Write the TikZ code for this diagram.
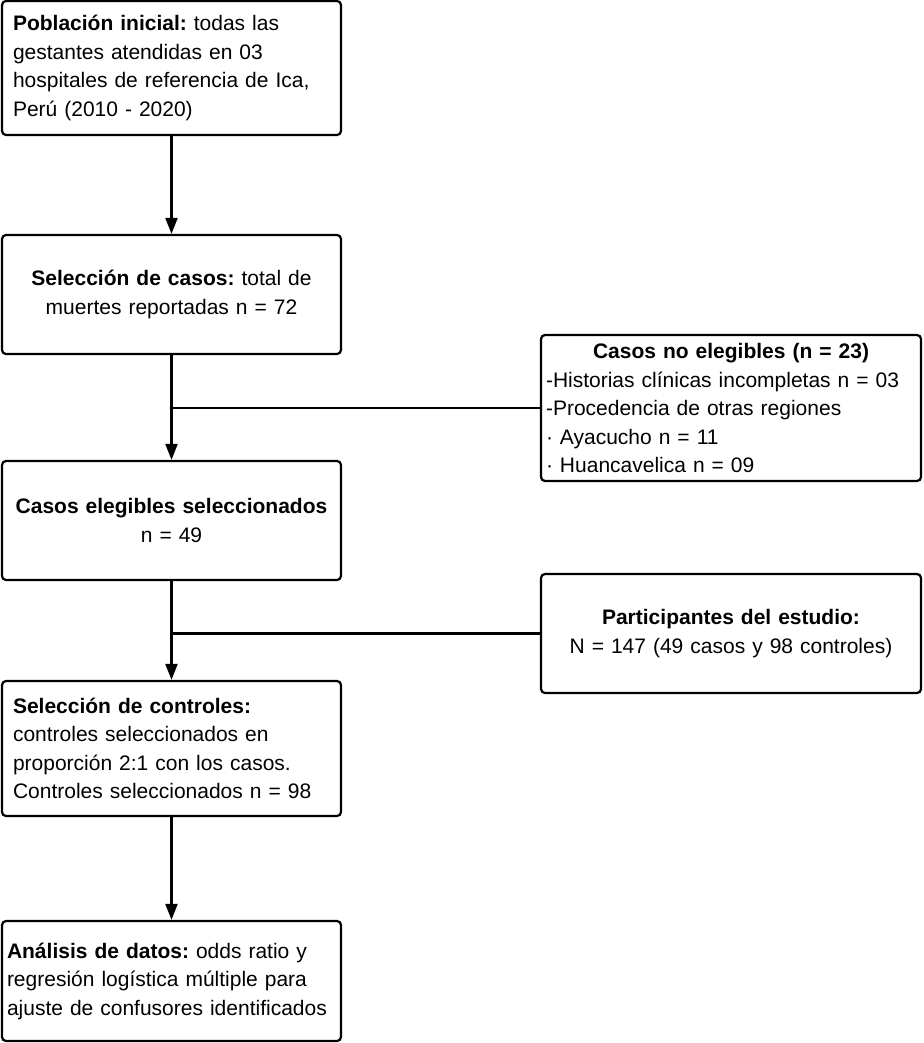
\documentclass[tikz,border=0pt]{standalone}
\usepackage{fontspec}
\setmainfont{Liberation Sans}
\usetikzlibrary{arrows.meta}
\frenchspacing

\tikzset{
  box/.style={draw, line width=2.2pt, rounded corners=4pt, minimum width=339pt,
    inner xsep=11pt, text width=317pt, font=\fontsize{21}{28.5}\selectfont},
  side/.style={box, minimum width=380pt, inner xsep=5pt, text width=370pt},
  link/.style={line width=2.2pt},
  arr/.style={link, -{Triangle[length=16pt,width=12pt]}}
}

\begin{document}
\begin{tikzpicture}[x=1pt, y=-1pt]
        \useasboundingbox (0,0) rectangle (923,1043);

        % main column
        \node[box, align=left, minimum height=134pt] (poblacion) at (171.5,68)
          {\textbf{Población inicial:} todas las\\ gestantes atendidas en 03\\ hospitales de referencia de Ica,\\ Perú (2010 - 2020)};
        \node[box, align=center, minimum height=119pt] (casos) at (171.5,294.5)
          {\textbf{Selección de casos:} total de\\ muertes reportadas n = 72};
        \node[box, align=center, minimum height=119pt] (elegibles) at (171.5,520.5)
          {\textbf{Casos elegibles seleccionados}\\ n = 49};
        \node[box, align=left, minimum height=135pt] (controles) at (171.5,748.5)
          {\textbf{Selección de controles:}\\ controles seleccionados en\\ proporción 2:1 con los casos.\\ Controles seleccionados n = 98};
        \node[box, align=left, inner xsep=5pt, text width=329pt, minimum height=120pt] (analisis) at (171.5,981)
          {\textbf{Análisis de datos:} odds ratio y\\ regresión logística múltiple para\\ ajuste de confusores identificados};

        % side boxes
        \node[side, align=left, minimum height=146pt] (noelegibles) at (731,408)
          {\makebox[\linewidth]{\textbf{Casos no elegibles (n = 23)}}\\ -Historias clínicas incompletas n = 03\\ -Procedencia de otras regiones\\ · Ayacucho n = 11\\ · Huancavelica n = 09};
        \node[side, align=center, minimum height=119pt] (participantes) at (731,633.5)
          {\textbf{Participantes del estudio:}\\ N = 147 (49 casos y 98 controles)};

        % connectors
        \draw[arr] (poblacion) -- (casos);
        \draw[arr] (casos) -- (elegibles);
        \draw[arr] (elegibles) -- (controles);
        \draw[arr] (controles) -- (analisis);
        \draw[link] (noelegibles.west) -- (noelegibles.west -| casos.south);
        \draw[link] (participantes.west) -- (participantes.west -| elegibles.south);
    \end{tikzpicture}
\end{document}
